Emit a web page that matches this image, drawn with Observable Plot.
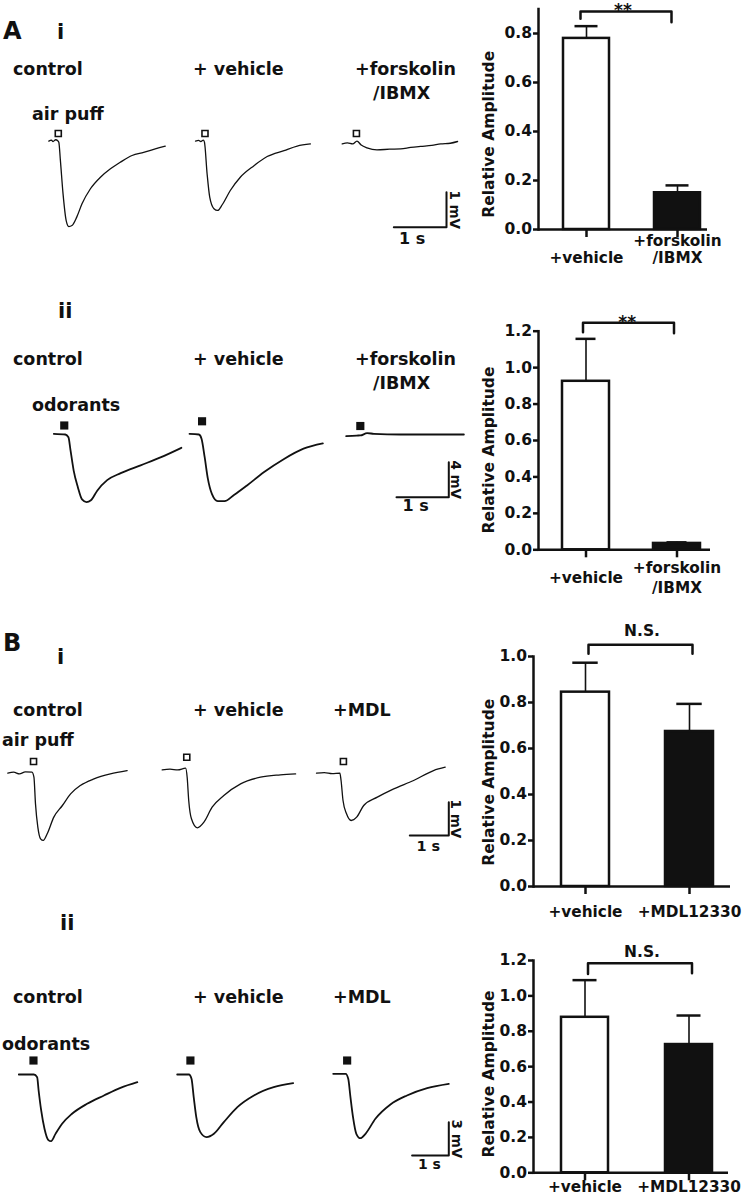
<!DOCTYPE html>
<html>
<head>
<meta charset="utf-8">
<script src="https://cdn.jsdelivr.net/npm/d3@7"></script>
<script src="https://cdn.jsdelivr.net/npm/@observablehq/plot@0.6"></script>
<style>
html,body{margin:0;padding:0;background:#fff;}
#fig{position:relative;width:750px;height:1200px;overflow:hidden;background:#fff;color:#111;font-family:"DejaVu Sans",sans-serif;font-weight:bold;}
.lbl{position:absolute;white-space:pre;line-height:1;}
.panel{position:absolute;}
.panel svg{overflow:visible;background:transparent;}
</style>
</head>
<body>
<div id="fig"></div>
<script>
// ================= DATA =================
// Membrane potential traces: [time (s), voltage (mV)] relative to baseline
const aiControl = [[0,0.01],[0.05,0.04],[0.08,0],[0.13,0.05],[0.17,0.02],[0.19,-0.02],[0.22,-0.54],[0.27,-1.49],[0.33,-2.26],[0.38,-2.43],[0.44,-2.40],[0.53,-2.16],[0.63,-1.78],[0.79,-1.35],[0.98,-1.02],[1.17,-0.78],[1.36,-0.59],[1.58,-0.40],[1.80,-0.31],[2.02,-0.21],[2.21,-0.13]];
const aiVehicle = [[0,0.01],[0.06,0.03],[0.10,0],[0.15,0.04],[0.17,-0.02],[0.22,-0.92],[0.27,-1.59],[0.35,-1.92],[0.42,-1.97],[0.51,-1.80],[0.66,-1.40],[0.85,-1.02],[1.11,-0.69],[1.36,-0.43],[1.68,-0.26],[1.93,-0.13],[2.18,-0.07]];
const aiForsk = [[0,-0.07],[0.10,-0.04],[0.20,-0.07],[0.28,0.01],[0.36,-0.10],[0.47,-0.18],[0.66,-0.24],[0.90,-0.22],[1.11,-0.21],[1.30,-0.17],[1.49,-0.14],[1.70,-0.11],[1.87,-0.07],[2.05,-0.05],[2.19,0]];
const aiiControl = [[0,0],[0.22,-0.08],[0.28,-0.39],[0.32,-1.9],[0.38,-4.2],[0.46,-6.1],[0.54,-7.5],[0.625,-7.8],[0.71,-7.6],[0.83,-6.5],[1.02,-5.3],[1.28,-4.5],[1.66,-3.6],[2.04,-2.7],[2.44,-1.6]];
const aiiVehicle = [[0,0],[0.18,-0.08],[0.23,-0.57],[0.29,-2.67],[0.35,-5.1],[0.43,-6.9],[0.54,-7.7],[0.67,-7.7],[0.85,-7.0],[1.10,-5.9],[1.42,-4.4],[1.80,-2.9],[2.18,-1.7],[2.55,-1.1]];
const aiiForsk = [[0,-0.27],[0.20,-0.20],[0.27,-0.19],[0.40,0.07],[0.53,0],[1.04,-0.08],[1.68,-0.08],[2.25,-0.08]];
const biControl = [[0,0],[0.15,0.03],[0.30,-0.02],[0.45,0.04],[0.62,0.03],[0.67,-0.12],[0.71,-0.92],[0.77,-1.62],[0.84,-1.97],[0.91,-2.02],[1.01,-1.82],[1.18,-1.32],[1.40,-0.97],[1.61,-0.62],[1.86,-0.37],[2.21,-0.17],[2.63,-0.02],[3.06,0.08]];
const biVehicle = [[0,0.10],[0.20,0.12],[0.40,0.10],[0.60,0.15],[0.64,-0.12],[0.68,-0.82],[0.75,-1.37],[0.90,-1.64],[1.07,-1.47],[1.28,-1.02],[1.58,-0.67],[2.01,-0.32],[2.52,-0.12],[3.03,-0.05],[3.42,-0.02]];
const biMDL = [[0,0],[0.20,0.02],[0.40,-0.01],[0.60,0],[0.63,-0.22],[0.68,-0.82],[0.77,-1.22],[0.89,-1.42],[1.03,-1.32],[1.21,-0.97],[1.56,-0.72],[1.98,-0.47],[2.49,-0.22],[3.00,0.08],[3.30,0.18]];
const biiControl = [[0,0],[0.41,0],[0.50,-0.24],[0.54,-1.44],[0.61,-3.24],[0.70,-4.89],[0.80,-5.88],[0.88,-6.01],[1.00,-5.35],[1.18,-4.44],[1.45,-3.54],[1.86,-2.64],[2.32,-1.89],[2.77,-1.20],[3.23,-0.69]];
const biiVehicle = [[0,0],[0.32,0],[0.39,-0.39],[0.45,-2.04],[0.52,-3.84],[0.63,-5.19],[0.80,-5.64],[1.00,-5.34],[1.27,-4.29],[1.64,-2.94],[2.09,-1.89],[2.63,-1.14],[3.16,-0.78]];
const biiMDL = [[0,0.06],[0.34,0.06],[0.41,-0.39],[0.47,-2.04],[0.54,-3.84],[0.63,-5.34],[0.74,-5.74],[0.88,-5.34],[1.15,-3.99],[1.56,-2.70],[2.01,-1.89],[2.56,-1.23],[3.15,-0.84]];

// Stimulus marker (time s, height mV) for each trace
const stimAi = [[0.18,0.23],[0.18,0.23],[0.27,0.23]];
const stimAii = [[0.20,0.95],[0.24,1.43],[0.27,0.89]];
const stimBi = [[0.66,0.35],[0.63,0.48],[0.69,0.35]];
const stimBii = [[0.40,1.26],[0.36,1.26],[0.38,1.26]];

// Scale bar sizes (1 s, N mV)
const scaleMvAi = 1, scaleMvAii = 4, scaleMvBi = 1, scaleMvBii = 3;

// Text
const conditionsA = ["control", "+ vehicle", "+forskolin", "/IBMX"];
const conditionsB = ["control", "+ vehicle", "+MDL"];
const stimNames = ["air puff", "odorants"];

// Bar charts: relative amplitude (mean, SEM)
const barCatsA = ["+vehicle", "+forskolin\n/IBMX"];
const barCatsB = ["+vehicle", "+MDL12330"];
const ampAi = [0.78, 0.15],   errAi = [0.05, 0.03];
const ampAii = [0.925, 0.035], errAii = [0.233, 0.006];
const ampBi = [0.845, 0.674], errBi = [0.128, 0.12];
const ampBii = [0.879, 0.725], errBii = [0.21, 0.164];
const yTicksAi = [0, 0.2, 0.4, 0.6, 0.8];
const yTicksAii = [0, 0.2, 0.4, 0.6, 0.8, 1.0, 1.2];
const yTicksBi = [0, 0.2, 0.4, 0.6, 0.8, 1.0];
const yTicksBii = [0, 0.2, 0.4, 0.6, 0.8, 1.0, 1.2];
// significance brackets: [left end, top, right end] in amplitude units
const bracketAi = [0.86, 0.89, 0.846];
const bracketAii = [1.194, 1.246, 1.189];
const bracketBi = [1.012, 1.051, 1.012];
const bracketBii = [1.124, 1.184, 1.128];
const sigAi = "**", sigAii = "**", sigBi = "N.S.", sigBii = "N.S.";
const yLabel = "Relative Amplitude";

// ================= LAYOUT =================
const fig = document.getElementById("fig");
const FONT = "DejaVu Sans, sans-serif";

function addText(txt, left, baseline, size) {
  const d = document.createElement("div");
  d.className = "lbl";
  d.textContent = txt;
  d.style.left = left + "px";
  d.style.top = (baseline - 0.846 * size) + "px";
  d.style.fontSize = size + "px";
  fig.appendChild(d);
}
function place(node, left, top) {
  const d = document.createElement("div");
  d.className = "panel";
  d.style.left = left + "px";
  d.style.top = top + "px";
  d.appendChild(node);
  fig.appendChild(d);
}

function tracePanel(c) {
  const W = 470, H = c.bottom - c.top;
  const rows = [];
  c.traces.forEach((tr, k) => tr.forEach(([t, v]) => rows.push({k, x: c.starts[k] / c.pxPerS + t, v})));
  const stims = c.stim.map(([t, v], k) => ({x: c.starts[k] / c.pxPerS + t, v}));
  const x0 = c.bar.right / c.pxPerS - 1;
  const yb = -(c.bar.bottom - c.baseY) / c.pxPerMV;
  const barPts = [{x: x0, v: yb}, {x: x0 + 1, v: yb}, {x: x0 + 1, v: yb + c.mv}];
  const svg = Plot.plot({
    width: W, height: H, margin: 0,
    x: {domain: [0, W / c.pxPerS], axis: null},
    y: {domain: [-(c.bottom - c.baseY) / c.pxPerMV, (c.baseY - c.top) / c.pxPerMV], axis: null},
    style: {fontFamily: FONT, fontWeight: "bold", background: "transparent", overflow: "visible", color: "#111"},
    marks: [
      Plot.line(rows, {x: "x", y: "v", z: "k", curve: "monotone-x", stroke: "#111", strokeWidth: c.lw, strokeLinejoin: "round"}),
      Plot.dot(stims, {x: "x", y: "v", symbol: "square", r: c.hollow ? 3.4 : 4.6,
        fill: c.hollow ? "white" : "#111", stroke: c.hollow ? "#111" : "none", strokeWidth: 1.6}),
      Plot.line(barPts, {x: "x", y: "v", stroke: "#111", strokeWidth: 2}),
      Plot.text([{x: x0 + 0.5, v: yb, t: "1 s"}], {x: "x", y: "v", text: "t", dx: c.bar.sDx, dy: c.bar.sDy, lineAnchor: "bottom", fontSize: c.bar.sFs, fill: "#111"}),
      Plot.text([{x: x0 + 1, v: yb + c.mv / 2, t: c.mv + " mV"}], {x: "x", y: "v", text: "t", rotate: 90, dx: c.bar.mvDx, lineAnchor: "middle", textAnchor: "middle", fontSize: 13.5, fill: "#111"})
    ]
  });
  place(svg, 0, c.top);
}

function barPanel(c) {
  const data = c.cats.map((cat, i) => ({cat, value: c.vals[i], err: c.errs[i], fill: i === 0 ? "white" : "#111"}));
  const br = [{cat: c.cats[0], v: c.bracket[0]}, {cat: c.cats[0], v: c.bracket[1]}, {cat: c.cats[1], v: c.bracket[1]}, {cat: c.cats[1], v: c.bracket[2]}];
  const svg = Plot.plot({
    width: c.width, height: c.height,
    marginLeft: c.ml, marginRight: c.mr, marginTop: c.mt, marginBottom: c.mb,
    x: {type: "band", domain: c.cats, paddingInner: c.pi, paddingOuter: c.po, align: c.align},
    y: {domain: c.domain},
    style: {fontFamily: FONT, fontWeight: "bold", background: "transparent", overflow: "visible", color: "#111"},
    marks: [
      Plot.barY(data, {x: "cat", y: "value", fill: d => d.fill, stroke: "#111", strokeWidth: 2.5}),
      Plot.ruleX(data, {x: "cat", y1: "value", y2: d => d.value + d.err, stroke: "#111", strokeWidth: 1.6}),
      Plot.tickY(data, {x: "cat", y: d => d.value + d.err, stroke: "#111", strokeWidth: 2.5, insetLeft: c.capInset, insetRight: c.capInset}),
      Plot.axisY({ticks: c.ticks, tickFormat: ".1f", tickSize: 5, tickPadding: 1.5, strokeWidth: 2.5, fontSize: 15.5, label: null}),
      Plot.axisX({tickSize: 8, tickFormat: () => "", strokeWidth: 2.5, label: null}),
      Plot.frame({anchor: "left", stroke: "#111", strokeWidth: 2.5}),
      Plot.ruleY([0], {stroke: "#111", strokeWidth: 2.5}),
      Plot.line(br, {x: "cat", y: "v", stroke: "#111", strokeWidth: 2.5, dx: c.brDx}),
      Plot.text([{v: c.bracket[1], t: c.sig}], {y: "v", text: "t", dx: c.sigDx, dy: c.sigDy, lineAnchor: "bottom", textAnchor: "middle", fontSize: c.sigFs, fill: "#111"}),
      Plot.text([{t: yLabel}], {text: "t", frameAnchor: "left", rotate: -90, dx: c.labDx, dy: c.labDy, lineAnchor: "middle", textAnchor: "middle", fontSize: 15.5, fill: "#111"}),
      Plot.text(data, {x: "cat", text: "cat", frameAnchor: "bottom", lineAnchor: c.xAnchor, lineHeight: c.xLh, dy: c.xDy, textAnchor: "middle", fontSize: 15.3, fill: "#111"})
    ]
  });
  place(svg, c.left, c.top);
}

// ---- Panel A i ----
addText("A", 3, 39.5, 24);
addText("i", 57, 39.5, 21);
addText(conditionsA[0], 13, 76, 17.5);
addText(conditionsA[1], 193, 76, 17.5);
addText(conditionsA[2], 355, 76, 17.5);
addText(conditionsA[3], 373, 99.5, 17.5);
addText(stimNames[0], 32, 121, 17.5);
tracePanel({top: 100, bottom: 255, baseY: 141, pxPerS: 52.7, pxPerMV: 35, starts: [48.3, 195, 341.7],
  traces: [aiControl, aiVehicle, aiForsk], stim: stimAi, hollow: true, lw: 1.3, mv: scaleMvAi,
  bar: {right: 446, bottom: 226.7, sDx: -8, sDy: 16.6, sFs: 16, mvDx: 8}});
barPanel({left: 470, top: 0, width: 280, height: 275, ml: 68, mr: 43, mt: 8.5, mb: 46,
  cats: barCatsA, vals: ampAi, errs: errAi, domain: [0, 0.9], ticks: yTicksAi,
  pi: 0.492, po: 0.169, align: 0.774, capInset: 11.5, bracket: bracketAi, brDx: -6,
  sig: sigAi, sigDx: 0, sigDy: 5, sigFs: 17, labDx: -49.7, labDy: 15, xAnchor: "bottom", xLh: 1.1, xDy: 33.7});

// ---- Panel A ii ----
addText("ii", 58, 318.3, 21);
addText(conditionsA[0], 13, 366, 17.5);
addText(conditionsA[1], 193, 366, 17.5);
addText(conditionsA[2], 355, 366, 17.5);
addText(conditionsA[3], 373, 390, 17.5);
addText(stimNames[1], 32, 412, 17.5);
tracePanel({top: 400, bottom: 525, baseY: 433.3, pxPerS: 52.3, pxPerMV: 8.75, starts: [53.3, 189, 345.7],
  traces: [aiiControl, aiiVehicle, aiiForsk], stim: stimAii, hollow: false, lw: 1.8, mv: scaleMvAii,
  bar: {right: 448.3, bottom: 496.7, sDx: -7, sDy: 14, sFs: 16, mvDx: 6.7}});
barPanel({left: 470, top: 290, width: 280, height: 320, ml: 68, mr: 40, mt: 40.7, mb: 60.7,
  cats: barCatsA, vals: ampAii, errs: errAii, domain: [0, 1.2], ticks: yTicksAii,
  pi: 0.483, po: 0.178, align: 0.694, capInset: 13.5, bracket: bracketAii, brDx: -3,
  sig: sigAii, sigDx: 2.7, sigDy: 4.7, sigFs: 17, labDx: -49.7, labDy: 9.5, xAnchor: "middle", xLh: 1.3, xDy: 26.6});

// ---- Panel B i ----
addText("B", 3, 651.7, 24);
addText("i", 57, 664.5, 21);
addText(conditionsB[0], 13, 717, 17.5);
addText(conditionsB[1], 193, 717, 17.5);
addText(conditionsB[2], 333, 717, 17.5);
addText(stimNames[0], 2, 747, 17.5);
tracePanel({top: 750, bottom: 860, baseY: 772.7, pxPerS: 39, pxPerMV: 33.3, starts: [7.3, 161.7, 316],
  traces: [biControl, biVehicle, biMDL], stim: stimBi, hollow: true, lw: 1.3, mv: scaleMvBi,
  bar: {right: 448.3, bottom: 835, sDx: -1, sDy: 15, sFs: 14.5, mvDx: 6.7}});
barPanel({left: 470, top: 620, width: 280, height: 300, ml: 63, mr: 20, mt: 36, mb: 34,
  cats: barCatsB, vals: ampBi, errs: errBi, domain: [0, 1.0], ticks: yTicksBi,
  pi: 0.543, po: 0.2156, align: 0.615, capInset: 11.3, bracket: bracketBi, brDx: 3,
  sig: sigBi, sigDx: 10, sigDy: -8.6, sigFs: 15.5, labDx: -44.7, labDy: 10.7, xAnchor: "bottom", xLh: 1.0, xDy: 30});

// ---- Panel B ii ----
addText("ii", 60, 930.5, 21);
addText(conditionsB[0], 13, 1004, 17.5);
addText(conditionsB[1], 193, 1004, 17.5);
addText(conditionsB[2], 333, 1004, 17.5);
addText(stimNames[1], 2, 1051, 17.5);
tracePanel({top: 1052, bottom: 1180, baseY: 1074, pxPerS: 36.7, pxPerMV: 11.1, starts: [18.3, 176.7, 332.7],
  traces: [biiControl, biiVehicle, biiMDL], stim: stimBii, hollow: false, lw: 1.8, mv: scaleMvBii,
  bar: {right: 448.3, bottom: 1155, sDx: -1, sDy: 13.3, sFs: 14, mvDx: 8}});
barPanel({left: 470, top: 930, width: 280, height: 270, ml: 63, mr: 22, mt: 30, mb: 27.7,
  cats: barCatsB, vals: ampBii, errs: errBii, domain: [0, 1.2], ticks: yTicksBii,
  pi: 0.548, po: 0.2057, align: 0.643, capInset: 11.5, bracket: bracketBii, brDx: 3,
  sig: sigBii, sigDx: 11, sigDy: -6, sigFs: 15.5, labDx: -44.7, labDy: 7.3, xAnchor: "bottom", xLh: 1.0, xDy: 19.2});
</script>
</body>
</html>
